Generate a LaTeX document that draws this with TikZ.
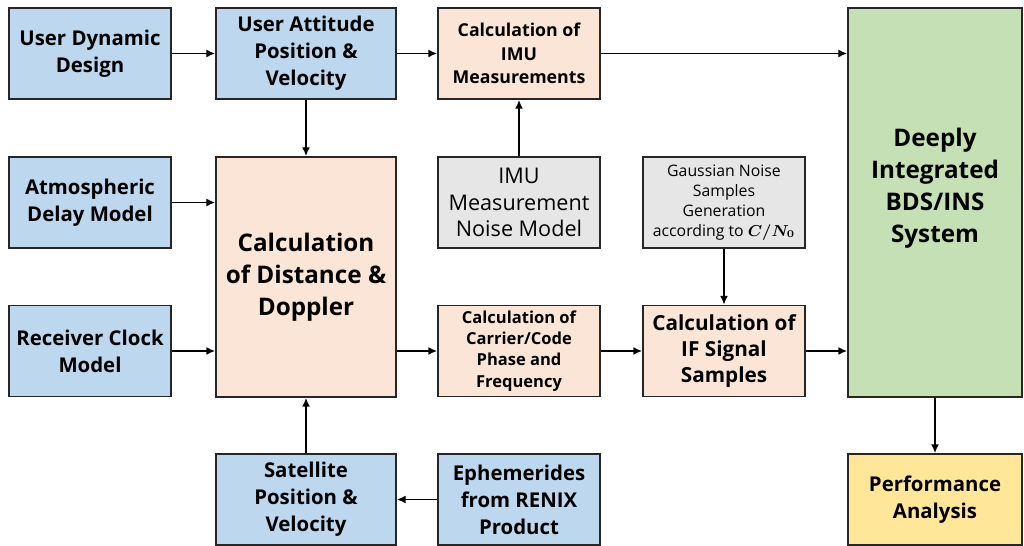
\documentclass[tikz,border=0pt]{standalone}
\usepackage{amsmath}
\usepackage{fontspec}
\setmainfont{Open Sans}
\usetikzlibrary{arrows.meta}
\definecolor{cblue}{HTML}{BDD7EE}
\definecolor{cpeach}{HTML}{FBE5D6}
\definecolor{cgray}{HTML}{E7E6E6}
\definecolor{cgreen}{HTML}{C5E0B4}
\definecolor{cyellow}{HTML}{FFE699}
\definecolor{cline}{HTML}{262626}
\begin{document}
\begin{tikzpicture}[x=0.02cm,y=-0.02cm,
  box/.style={draw=cline,line width=0.9pt,align=center,inner sep=2pt,
     minimum width=3.24cm,minimum height=1.82cm,font=\fontsize{11.6}{15.4}\selectfont\bfseries},
  wide/.style={minimum width=3.6cm},
  blue/.style={box,fill=cblue},
  peach/.style={box,fill=cpeach},
  grayb/.style={box,fill=cgray},
  arr/.style={line width=1.1pt,draw=black,-{Latex[length=5pt,width=4.5pt]}}]
\useasboundingbox (0,0) rectangle (1024,546);
\node[blue] (udd) at (90,53.5) {User Dynamic\\Design};
\node[blue,wide] (uapv) at (306,53.5) {User Attitude\\Position \&\\Velocity};
\node[peach,font=\fontsize{10.1}{13.4}\selectfont\bfseries] (imuc) at (519,53.5) {Calculation of\\IMU\\Measurements};
\node[box,fill=cgreen,minimum width=3.48cm,minimum height=7.78cm,font=\fontsize{13.8}{18.2}\selectfont\bfseries] (dis) at (935,202.5) {Deeply\\Integrated\\BDS/INS\\System\\[1pt]\mbox{}};
\node[blue] (atm) at (90,202.5) {Atmospheric\\Delay Model};
\node[peach,wide,minimum height=4.8cm,font=\fontsize{13.8}{18.2}\selectfont\bfseries] (dist) at (306,277) {Calculation\\of Distance \&\\Doppler};
\node[grayb,font=\fontsize{12.3}{15.2}\selectfont\mdseries] (imun) at (519,202.5) {IMU\\Measurement\\Noise Model};
\node[grayb,font=\fontsize{9}{11.3}\selectfont\mdseries] (gauss) at (724,202.5) {Gaussian Noise\\Samples\\Generation\\according to $\boldsymbol{C/N_0}$};
\node[blue] (rcv) at (90,351) {Receiver Clock\\Model};
\node[peach,font=\fontsize{9.4}{12.1}\selectfont\bfseries] (carr) at (519,351) {Calculation of\\Carrier/Code\\Phase and\\Frequency};
\node[peach,font=\fontsize{11.8}{14.8}\selectfont\bfseries] (ifs) at (724,351) {Calculation of\\IF Signal\\Samples};
\node[blue,wide] (sat) at (306,499.5) {Satellite\\Position \&\\Velocity};
\node[blue] (eph) at (519,499.5) {Ephemerides\\from RENIX\\Product};
\node[box,fill=cyellow,minimum width=3.48cm] (perf) at (935,499.5) {Performance\\Analysis};
\draw[arr] (udd) -- (uapv);
\draw[arr] (uapv) -- (imuc);
\draw[arr] (imuc.east) -- (imuc.east -| dis.west);
\draw[arr] (uapv) -- (dist);
\draw[arr] (atm) -- (atm -| dist.west);
\draw[arr] (rcv) -- (rcv -| dist.west);
\draw[arr] (sat) -- (dist);
\draw[arr] (eph) -- (sat);
\draw[arr] (imun) -- (imuc);
\draw[arr] (gauss) -- (ifs);
\draw[arr] (carr -| dist.east) -- (carr);
\draw[arr] (carr) -- (ifs);
\draw[arr] (ifs.east) -- (ifs.east -| dis.west);
\draw[arr] (dis) -- (perf);
\end{tikzpicture}
\end{document}
